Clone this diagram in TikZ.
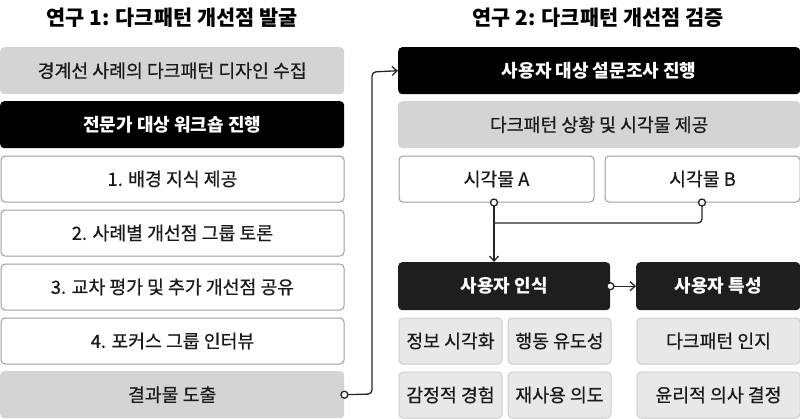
\documentclass[tikz,border=0pt]{standalone}
\usepackage{fontspec}
\setmainfont{Noto Sans CJK KR}
\newfontfamily\medfont{Noto Sans CJK KR}[FakeBold=0.6]
\usetikzlibrary{arrows.meta}
\definecolor{grayfill}{HTML}{D4D4D4}
\definecolor{lightfill}{HTML}{E8E8E8}
\definecolor{lightline}{HTML}{CCCCCC}
\definecolor{whiteline}{HTML}{9E9E9E}
\definecolor{darkfill}{HTML}{1E1E1E}
\definecolor{textgray}{HTML}{1A1A1A}
\begin{document}
\begin{tikzpicture}[x=1pt,y=-1pt,
  base/.style={rounded corners=4pt, inner sep=0pt, anchor=north west, text=textgray, font=\medfont\fontsize{18.3}{20}\selectfont},
  graybox/.style={base, fill=grayfill, draw=none},
  blackbox/.style={base, fill=black, text=white, font=\fontsize{18}{20}\selectfont\bfseries},
  darkbox/.style={base, fill=darkfill, text=white, font=\fontsize{18}{20}\selectfont\bfseries},
  whitebox/.style={base, fill=white, draw=whiteline, line width=1pt},
  lightbox/.style={base, fill=lightfill, draw=lightline, line width=1pt},
  titlenode/.style={font=\fontsize{20.8}{24}\selectfont\bfseries},
  conn/.style={line width=1.3pt, draw=black!85, rounded corners=4pt},
  tip/.style={-{Straight Barb[length=5pt,width=9pt,line width=1.3pt]}},
  dot/.style={circle, draw=black!85, line width=1.3pt, fill=white, inner sep=0pt, minimum size=7pt}
]
\useasboundingbox (0,0) rectangle (800,418);
\node[titlenode] (t1) at (172,18) {연구 1: 다크패턴 개선점 발굴};
\node[titlenode] (t2) at (598,18) {연구 2: 다크패턴 개선점 검증};
% left column
\node[graybox, minimum width=344pt, minimum height=47pt] (l1) at (0,47) {경계선 사례의 다크패턴 디자인 수집};
\node[blackbox, minimum width=344pt, minimum height=47pt] (l2) at (0,101) {전문가 대상 워크숍 진행};
\node[whitebox, minimum width=343pt, minimum height=46pt] (l3) at (0.5,155.5) {1. 배경 지식 제공};
\node[whitebox, minimum width=343pt, minimum height=46pt] (l4) at (0.5,209.5) {2. 사례별 개선점 그룹 토론};
\node[whitebox, minimum width=343pt, minimum height=46pt] (l5) at (0.5,263.5) {3. 교차 평가 및 추가 개선점 공유};
\node[whitebox, minimum width=343pt, minimum height=46pt] (l6) at (0.5,317.5) {4. 포커스 그룹 인터뷰};
\node[graybox, minimum width=344pt, minimum height=47pt] (l7) at (0,371) {결과물 도출};
% right column
\node[blackbox, minimum width=402pt, minimum height=47pt] (r1) at (398,47) {사용자 대상 설문조사 진행};
\node[graybox, minimum width=402pt, minimum height=47pt] (r2) at (398,101) {다크패턴 상황 및 시각물 제공};
\node[whitebox, minimum width=195pt, minimum height=46pt] (ra) at (398.5,155.5) {시각물 A};
\node[whitebox, minimum width=195pt, minimum height=46pt] (rb) at (604.5,155.5) {시각물 B};
\node[darkbox, minimum width=212pt, minimum height=48pt] (ru) at (398,262) {사용자 인식};
\node[darkbox, minimum width=164pt, minimum height=48pt] (rt) at (636,262) {사용자 특성};
\node[lightbox, minimum width=103pt, minimum height=46pt] (s1) at (398.5,317.5) {정보 시각화};
\node[lightbox, minimum width=103pt, minimum height=46pt] (s2) at (507.5,317.5) {행동 유도성};
\node[lightbox, minimum width=103pt, minimum height=46pt] (s3) at (398.5,371.5) {감정적 경험};
\node[lightbox, minimum width=103pt, minimum height=46pt] (s4) at (507.5,371.5) {재사용 의도};
\node[lightbox, minimum width=163pt, minimum height=46pt] (s5) at (636.5,317.5) {다크패턴 인지};
\node[lightbox, minimum width=163pt, minimum height=46pt] (s6) at (636.5,371.5) {윤리적 의사 결정};
% connectors
\coordinate (ja) at (ra.south -| 494,0);
\coordinate (jb) at (rb.south -| 702,0);
\coordinate (jc) at (494,223);
\draw[conn] (jb) -- (702,223) -- (jc);
\draw[conn, tip, rounded corners=0pt] (ja) -- (ja |- ru.north);
\node[dot] (da) at (ja) {};
\node[dot] (db) at (jb) {};
\draw[conn, tip] (l7.east) -- (372,394) -- (372,72) -- (r1.west);
\node[dot] (dl) at (l7.east) {};
\draw[conn, tip] (ru.east) -- (rt.west);
\node[dot] (du) at (ru.east) {};
\end{tikzpicture}
\end{document}
